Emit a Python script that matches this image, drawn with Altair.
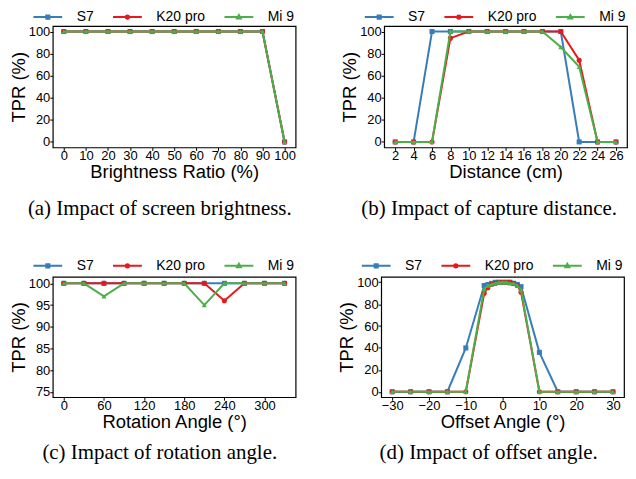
import altair as alt
import pandas as pd

series = ["S7", "K20 pro", "Mi 9"]
colors = ["#377eb8", "#e41a1c", "#4daf4a"]
shapes = ["square", "circle", "triangle-up"]

# (a) brightness
bright_x = [0, 10, 20, 30, 40, 50, 60, 70, 80, 90, 100]
bright_s7 = [100, 100, 100, 100, 100, 100, 100, 100, 100, 100, 0]
bright_k20 = [100, 100, 100, 100, 100, 100, 100, 100, 100, 100, 0]
bright_mi9 = [100, 100, 100, 100, 100, 100, 100, 100, 100, 100, 0]

# (b) distance
dist_x = [2, 4, 6, 8, 10, 12, 14, 16, 18, 20, 22, 24, 26]
dist_s7 = [0, 0, 100, 100, 100, 100, 100, 100, 100, 100, 0, 0, 0]
dist_k20 = [0, 0, 0, 94, 100, 100, 100, 100, 100, 100, 74, 0, 0]
dist_mi9 = [0, 0, 0, 100, 100, 100, 100, 100, 100, 86, 68, 0, 0]

# (c) rotation
rot_x = [0, 30, 60, 90, 120, 150, 180, 210, 240, 270, 300, 330]
rot_s7 = [100, 100, 100, 100, 100, 100, 100, 100, 100, 100, 100, 100]
rot_k20 = [100, 100, 100, 100, 100, 100, 100, 100, 96, 100, 100, 100]
rot_mi9 = [100, 100, 97, 100, 100, 100, 100, 95, 100, 100, 100, 100]

# (d) offset
off_x = [-30, -25, -20, -15, -10, -5, -4, -3, -2, -1, 0, 1, 2, 3, 4, 5, 10, 15, 20, 25, 30]
off_s7 = [0, 0, 0, 0, 40, 97, 98, 99, 100, 100, 100, 100, 100, 99, 98, 96, 36, 0, 0, 0, 0]
off_k20 = [0, 0, 0, 0, 0, 90, 95, 98, 99, 100, 100, 100, 100, 99, 97, 91, 0, 0, 0, 0, 0]
off_mi9 = [0, 0, 0, 0, 0, 94, 97, 98, 99, 100, 100, 100, 99, 99, 97, 93, 0, 0, 0, 0, 0]

# legend glyphs: a line with the series marker on it (unit coords, symbol size 49 -> r=3.5px)
legend_paths = [
    "M-4.14,0H4.14M-0.45,-0.45H0.45V0.45H-0.45Z",
    "M-4.14,0H4.14M0.48,0A0.48,0.48,0,1,1,-0.48,0A0.48,0.48,0,1,1,0.48,0Z",
    "M-4.14,0H4.14M0,-0.6L0.56,0.4H-0.56Z",
]

W = 244


def make_panel(xs, ys_list, xdom, xticks, ydom, yticks, xtitle, caption, h,
               leg_y, cap_offset, cap_dx):
    rows = []
    for name, ys in zip(series, ys_list):
        for x, y in zip(xs, ys):
            rows.append({"x": x, "y": y, "series": name})
    df = pd.DataFrame(rows)
    X = alt.X("x:Q", scale=alt.Scale(domain=xdom, nice=False, zero=False),
              axis=alt.Axis(values=xticks, title=xtitle))
    Y = alt.Y("y:Q", scale=alt.Scale(domain=ydom, nice=False, zero=False),
              axis=alt.Axis(values=yticks, title="TPR (%)"))
    layers = []
    for i, name in enumerate(series):
        base = alt.Chart(df).transform_filter(alt.datum.series == name)
        layers.append(base.mark_line(color=colors[i], strokeWidth=2).encode(x=X, y=Y))
        layers.append(base.mark_point(filled=True, color=colors[i], shape=shapes[i],
                                      size=26, opacity=1).encode(x=X, y=Y))
    leg = alt.Legend(orient="none", legendX=-12, legendY=leg_y, direction="horizontal",
                     columns=3, title=None, symbolSize=49, labelOffset=22,
                     columnPadding=14, symbolStrokeWidth=2)
    legend_layer = alt.Chart(df).transform_filter("false").mark_point(
        filled=True, opacity=1, strokeWidth=2).encode(
        x=X, y=Y,
        shape=alt.Shape("series:N", scale=alt.Scale(domain=series, range=legend_paths), legend=leg),
        fill=alt.Fill("series:N", scale=alt.Scale(domain=series, range=colors), legend=leg),
        stroke=alt.Stroke("series:N", scale=alt.Scale(domain=series, range=colors), legend=leg),
    )
    return alt.layer(*layers, legend_layer).properties(
        width=W, height=h,
        title=alt.TitleParams(caption, orient="bottom", offset=cap_offset, anchor="middle",
                              dx=cap_dx),
    )


pa = make_panel(bright_x, [bright_s7, bright_k20, bright_mi9], [-5, 105], bright_x,
                [-5, 105], [0, 20, 40, 60, 80, 100], "Brightness Ratio (%)",
                "(a) Impact of screen brightness.", 122, -16, 17, -14.5)
pb = make_panel(dist_x, [dist_s7, dist_k20, dist_mi9], [0.8, 27.2], dist_x,
                [-5, 105], [0, 20, 40, 60, 80, 100], "Distance (cm)",
                "(b) Impact of capture distance.", 122, -16, 17, -16.5)
pc = make_panel(rot_x, [rot_s7, rot_k20, rot_mi9], [-16.5, 346.5], [0, 60, 120, 180, 240, 300],
                [73.8, 101.5], [75, 80, 85, 90, 95, 100], "Rotation Angle (°)",
                "(c) Impact of rotation angle.", 121, -18, 12, -14.5)
pd_ = make_panel(off_x, [off_s7, off_k20, off_mi9], [-33, 33], [-30, -20, -10, 0, 10, 20, 30],
                 [-5, 105], [0, 20, 40, 60, 80, 100], "Offset Angle (°)",
                 "(d) Impact of offset angle.", 121, -18, 12, -14)

indep = dict(shape="independent", fill="independent", stroke="independent")
row1 = alt.hconcat(pa, pb, spacing=43).resolve_scale(**indep).resolve_legend(**indep)
row2 = alt.hconcat(pc, pd_, spacing=40).resolve_scale(**indep).resolve_legend(**indep)

chart = alt.vconcat(row1, row2, spacing=38).resolve_scale(**indep).resolve_legend(**indep).properties(
    padding=0
).configure_view(stroke="black", strokeWidth=1.2).configure_axis(
    grid=False, domain=False, labelFont="Liberation Sans", labelFontSize=13,
    titleFont="Liberation Sans", titleFontSize=18.5, titleFontWeight="normal",
    labelColor="black", titleColor="black", tickColor="black", tickSize=3,
    labelPadding=0, titlePadding=0, labelOverlap=False, labelFlush=False,
).configure_axisX(labelPadding=-1, titlePadding=0).configure_legend(
    labelFont="Liberation Sans", labelFontSize=14, labelColor="black", padding=0,
).configure_title(
    font="Liberation Serif", fontSize=21, fontWeight="normal", color="black",
)

chart.save("out.html", embed_options={"renderer": "svg", "actions": False})
